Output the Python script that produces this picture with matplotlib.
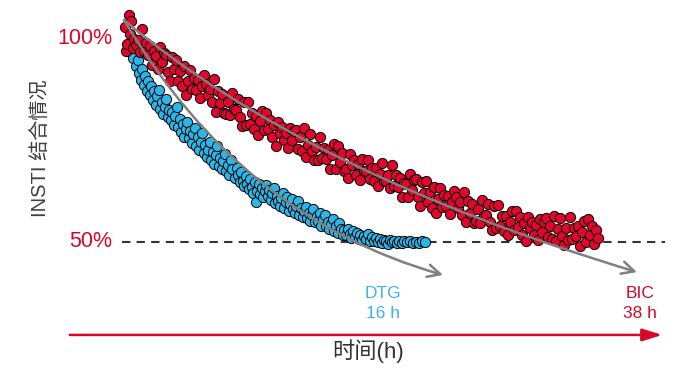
import matplotlib.pyplot as plt
from matplotlib.patches import FancyArrowPatch
from matplotlib.path import Path

# DTG (blue) – time (h) vs INSTI binding (%)
dtg_t = [0.6, 0.8, 0.9, 1.1, 1.3, 1.4,
         1.6, 1.7, 1.9, 2.0, 2.2, 2.3,
         2.5, 2.6, 2.8, 2.9, 3.1, 3.2, 3.4,
         3.5, 3.7, 3.8, 4.0, 4.1, 4.3,
         4.4, 4.6, 4.7, 4.9, 5.0, 5.2,
         5.3, 5.5, 5.6, 5.8, 5.9, 6.1,
         6.2, 6.4, 6.5, 6.7, 6.8, 7.0,
         7.1, 7.3, 7.4, 7.6, 7.7, 7.9,
         8.0, 8.2, 8.3, 8.5, 8.6, 8.8,
         8.9, 9.1, 9.2, 9.4, 9.5, 9.7, 9.8,
         10.0, 10.1, 10.3, 10.4, 10.6, 10.7,
         11.0, 11.2, 11.3, 11.5, 11.6, 11.8, 11.9,
         12.1, 12.2, 12.4, 12.5, 12.7, 12.8, 13.0,
         13.1, 13.2, 13.4, 13.5, 13.7, 13.8, 14.0,
         14.1, 14.3, 14.4, 14.6, 14.7, 14.9,
         15.0, 15.2, 15.3, 15.5, 15.6, 15.8,
         15.9, 16.1, 16.2, 16.4, 16.5, 16.7, 16.8,
         17.0, 17.1, 17.3, 17.4, 17.6, 17.8, 17.9,
         18.1, 18.2, 18.4, 18.5, 18.7, 18.8,
         19.0, 19.2, 19.3, 19.5, 19.6, 19.8,
         20.0, 20.1, 20.3, 20.4, 20.6, 20.8,
         20.9, 21.1, 21.3, 21.4, 21.6, 21.8,
         21.9, 22.1, 22.3, 22.5, 22.6, 22.8,
         23.0, 23.2, 23.4, 23.5, 23.7, 23.9,
         24.1, 24.3, 24.5, 24.7, 24.9,
         25.1, 25.3, 25.5, 25.7, 25.9,
         26.1, 26.3, 26.5, 26.7, 26.9,
         27.2, 27.4, 27.7, 27.9,
         28.2, 28.5, 28.8, 29.1, 29.4, 29.7, 30.0]
dtg_pct = [96.5, 95.0, 97.8, 93.2, 94.6, 91.5,
           89.8, 92.3, 88.4, 90.6, 87.1, 89.5,
           86.0, 88.1, 84.7, 86.9, 83.5, 85.8, 87.2,
           82.6, 84.3, 81.4, 83.0, 85.1, 80.6,
           82.3, 79.8, 81.9, 78.6, 80.9, 83.0,
           78.1, 80.2, 76.9, 78.8, 75.8, 77.6,
           79.3, 75.4, 77.2, 74.3, 76.5, 78.0,
           73.6, 75.7, 72.5, 74.6, 76.8, 71.9,
           73.8, 70.9, 72.6, 74.5, 70.2, 72.0,
           69.1, 71.3, 73.4, 68.7, 70.5, 67.9, 69.9,
           71.6, 67.3, 68.9, 66.4, 70.2, 67.8,
           65.6, 68.0, 66.5, 64.6, 67.1, 65.0, 63.7,
           66.2, 64.1, 62.9, 65.4, 63.5, 61.9, 64.6,
           59.8, 62.6, 64.3, 61.8, 63.2, 60.9, 62.4,
           64.0, 61.2, 62.8, 60.3, 61.9, 63.1,
           59.6, 61.3, 60.1, 58.8, 60.7, 62.0,
           58.4, 59.9, 61.1, 57.6, 59.2, 60.4, 58.0,
           57.1, 58.9, 60.0, 56.6, 58.2, 56.0, 57.5,
           58.6, 55.9, 57.2, 55.1, 56.7, 58.0,
           54.8, 56.3, 55.2, 57.2, 54.0, 55.6,
           56.6, 53.8, 55.0, 53.1, 54.4, 55.7,
           52.7, 53.9, 52.3, 54.6, 53.1, 51.8,
           52.9, 51.6, 53.2, 52.0, 50.9, 52.6,
           51.3, 52.3, 50.6, 51.8, 50.4, 51.5,
           50.8, 51.9, 50.3, 51.2, 50.1,
           51.0, 50.0, 50.7, 49.8, 50.5,
           50.3, 49.6, 50.4, 49.9, 50.2,
           49.7, 50.3, 49.8, 50.1,
           49.9, 50.2, 49.7, 50.0, 49.8, 50.1, 49.9]

# BIC (red)
bic_t = [0.0, 0.1, 0.2, 0.4, 0.5, 0.6, 0.8, 0.9,
         1.1, 1.3, 1.5, 1.7, 1.9,
         2.1, 2.3, 2.5, 2.7, 2.9,
         3.1, 3.3, 3.5, 3.7, 3.9,
         4.1, 4.3, 4.5, 4.7, 4.9,
         5.1, 5.3, 5.5, 5.7, 5.9,
         6.1, 6.3, 6.5, 6.7, 6.9,
         7.1, 7.3, 7.5, 7.7, 7.9,
         8.1, 8.3, 8.5, 8.7, 8.9,
         9.1, 9.3, 9.5, 9.7, 9.9,
         10.1, 10.3, 10.5, 10.7, 10.9,
         11.1, 11.3, 11.5, 11.7, 11.9,
         12.1, 12.3, 12.5, 12.7, 12.9,
         13.1, 13.3, 13.5, 13.7, 13.9,
         14.1, 14.3, 14.5, 14.7, 14.9,
         15.1, 15.3, 15.5, 15.7, 15.9,
         16.1, 16.3, 16.5, 16.7, 16.9,
         17.1, 17.3, 17.5, 17.7, 17.9,
         18.1, 18.3, 18.5, 18.7, 18.9,
         19.1, 19.3, 19.5, 19.7, 19.9,
         20.1, 20.3, 20.5, 20.7, 20.9,
         21.1, 21.3, 21.5, 21.7, 21.9,
         22.1, 22.3, 22.5, 22.7, 22.9,
         23.1, 23.3, 23.5, 23.7, 23.9,
         24.1, 24.3, 24.5, 24.7, 24.9,
         25.1, 25.3, 25.5, 25.7, 25.9,
         26.1, 26.3, 26.5, 26.7, 26.9,
         27.1, 27.3, 27.5, 27.7, 27.9,
         28.1, 28.3, 28.5, 28.7, 28.9,
         29.1, 29.3, 29.5, 29.7, 29.9,
         30.1, 30.3, 30.5, 30.7, 30.9,
         31.1, 31.3, 31.5, 31.7, 31.9,
         32.1, 32.3, 32.5, 32.7, 32.9,
         33.1, 33.3, 33.5, 33.7, 33.9,
         34.1, 34.3, 34.5, 34.7, 34.9,
         35.1, 35.3, 35.5, 35.7, 35.9,
         36.1, 36.3, 36.5, 36.7, 36.9,
         37.1, 37.3, 37.5, 37.7, 37.9,
         38.1, 38.3, 38.5, 38.7, 38.9,
         39.1, 39.3, 39.5, 39.7, 39.9,
         40.1, 40.3, 40.5, 40.7, 40.9,
         41.1, 41.3, 41.5, 41.7, 41.9,
         42.1, 42.3, 42.5, 42.7, 42.9,
         43.1, 43.3, 43.5, 43.7, 43.9,
         44.1, 44.3, 44.5, 44.7, 44.9,
         45.1, 45.3, 45.5, 45.7, 45.9,
         46.1, 46.3, 46.5, 46.7, 46.9,
         47.1, 47.3]
bic_pct = [102.8, 96.8, 98.4, 105.6, 101.0, 104.1, 97.5, 99.8,
           98.2, 99.6, 96.5, 102.1, 96.9,
           98.7, 95.7, 98.0, 93.3, 96.7,
           95.6, 92.3, 97.9, 94.0, 96.4,
           95.9, 91.6, 89.4, 95.3, 92.5,
           94.6, 89.4, 91.9, 88.1, 93.2,
           86.1, 89.5, 92.1, 87.4, 90.3,
           87.2, 89.6, 85.2, 88.2, 90.9,
           88.8, 86.0, 87.4, 84.3, 89.9,
           81.9, 87.0, 84.0, 86.3, 81.6,
           81.4, 84.3, 81.0, 86.6, 82.7,
           82.3, 85.0, 80.7, 78.5, 84.4,
           78.6, 84.2, 79.0, 81.5, 77.7,
           80.9, 76.2, 79.6, 82.2, 77.5,
           81.5, 77.6, 80.0, 75.6, 78.6,
           73.6, 79.5, 76.7, 78.1, 75.0,
           76.7, 72.9, 78.0, 75.0, 77.3,
           77.4, 72.7, 75.6, 72.3, 77.9,
           70.8, 73.8, 76.5, 72.2, 70.0,
           73.3, 70.2, 75.8, 70.6, 73.1,
           70.3, 72.6, 67.9, 71.3, 73.9,
           67.8, 73.4, 69.5, 71.9, 67.5,
           67.9, 65.7, 71.6, 68.8, 70.2,
           66.5, 69.0, 65.2, 70.3, 67.3,
           67.4, 70.0, 65.3, 68.2, 64.9,
           68.0, 63.6, 66.6, 69.3, 65.0,
           64.9, 66.3, 63.2, 68.8, 63.6,
           66.4, 63.4, 65.7, 61.0, 64.4,
           64.3, 61.0, 66.6, 62.7, 65.1,
           65.4, 61.1, 58.9, 64.8, 62.0,
           64.9, 59.7, 62.2, 58.4, 63.5,
           57.2, 60.6, 63.2, 58.5, 61.4,
           58.9, 61.3, 56.9, 59.9, 62.6,
           61.1, 58.3, 59.7, 56.6, 62.2,
           54.9, 60.0, 57.0, 59.3, 54.6,
           55.1, 58.0, 54.7, 60.3, 56.4,
           56.6, 59.3, 55.0, 52.8, 58.7,
           53.5, 59.1, 53.9, 56.4, 52.6,
           56.3, 51.6, 55.0, 57.6, 52.9,
           57.5, 53.6, 56.0, 51.6, 54.6,
           50.3, 56.2, 53.4, 54.8, 51.7,
           54.2, 50.4, 55.5, 52.5, 54.8,
           55.8, 51.1, 54.0, 50.7, 56.3,
           50.1, 53.1, 55.8, 51.5, 49.3,
           53.5, 50.4, 56.0, 50.8, 53.3,
           51.5, 53.8, 49.1, 52.5, 55.1,
           49.9, 55.5, 51.6, 54.0, 49.6,
           52.8, 50.9]

red = '#d7072c'
grey = '#808080'

fig = plt.figure(figsize=(6.79, 3.70), dpi=100)
ax = fig.add_axes([0, 0, 1, 1])
ax.set_xlim(-12.5, 55.4)
ax.set_ylim(18.6, 109.3)
ax.axis('off')

# scatter data
ax.scatter(dtg_t, dtg_pct, s=54, color='#29b6e8', edgecolors='black', linewidths=0.7, zorder=2)
ax.scatter(bic_t, bic_pct, s=54, color='#e2062c', edgecolors='black', linewidths=0.7, zorder=3)

# 50% reference line
ax.plot([-0.3, 54.0], [50, 50], color='#333333', lw=1.5, dashes=[4, 3], zorder=1)

# fitted decay curves drawn as curved arrows (start, bend, end)
curves = [[(-0.1, 104.4), (11.6, 55.9), (31.8, 41.9)],
          [(-0.1, 104.4), (17.7, 67.4), (51.2, 42.6)]]
for pts in curves:
    path = Path(pts, [Path.MOVETO, Path.CURVE3, Path.CURVE3])
    arr = FancyArrowPatch(path=path, arrowstyle='->,head_length=0.6,head_width=0.3',
                          mutation_scale=15, color=grey, lw=1.8, zorder=4)
    ax.add_patch(arr)

# time axis arrow
ax.annotate('', xy=(54.0, 27.2), xytext=(-5.8, 27.2),
            arrowprops=dict(arrowstyle='-|>,head_length=0.8,head_width=0.25',
                            color=red, lw=1.8, mutation_scale=15))

fam = ['Liberation Sans', 'Noto Sans CJK SC']
fig.text(0.165, 0.897, '100%', color=red, fontsize=15.5, ha='right', va='center', family=fam)
fig.text(0.165, 0.346, '50%', color=red, fontsize=15.5, ha='right', va='center', family=fam)
fig.text(0.059, 0.60, 'INSTI 结合情况', color='#404040', fontsize=14.5, rotation=90,
         ha='center', va='center', family=fam)
fig.text(0.542, 0.051, '时间(h)', color='#333333', fontsize=16, ha='center', va='center', family=fam)
fig.text(0.564, 0.208, 'DTG', color='#3cb4e5', fontsize=12.5, ha='center', va='center', family=fam)
fig.text(0.564, 0.154, '16 h', color='#3cb4e5', fontsize=12.5, ha='center', va='center', family=fam)
fig.text(0.943, 0.208, 'BIC', color=red, fontsize=12.5, ha='center', va='center', family=fam)
fig.text(0.943, 0.154, '38 h', color=red, fontsize=12.5, ha='center', va='center', family=fam)

fig.savefig('out.png', dpi=100)
